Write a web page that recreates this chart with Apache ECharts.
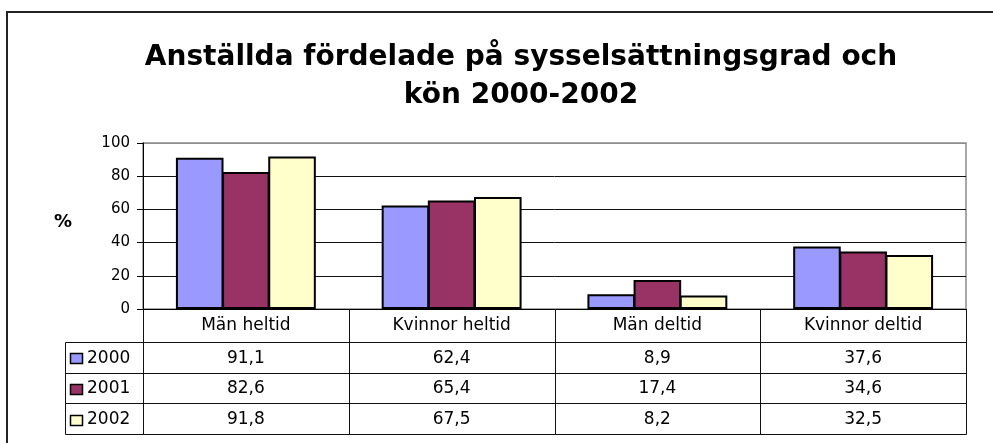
<!DOCTYPE html>
<html>
<head>
<meta charset="utf-8">
<title>Anställda fördelade på sysselsättningsgrad och kön 2000-2002</title>
<script src="https://cdn.jsdelivr.net/npm/echarts@6/dist/echarts.min.js"></script>
<style>
  html, body { margin: 0; padding: 0; background: #fff; }
  #chart { width: 993px; height: 443px; }
</style>
</head>
<body>
<div id="chart"></div>
<script>
// data (also printed in the table under the chart)
var categories = ['Män heltid', 'Kvinnor heltid', 'Män deltid', 'Kvinnor deltid'];
var years = ['2000', '2001', '2002'];
var v2000 = [91.1, 62.4, 8.9, 37.6];
var v2001 = [82.6, 65.4, 17.4, 34.6];
var v2002 = [91.8, 67.5, 8.2, 32.5];
var yMin = 0, yMax = 100, yStep = 20;

var colors = ['#9999ff', '#993366', '#ffffcc'];
var font = 'DejaVu Sans';
var rows = [v2000, v2001, v2002];

var myChart = echarts.init(document.getElementById('chart'));

function fmt(v) {
    return v.toFixed(1).replace('.', ',');
}

var option = {
    animation: false,
    backgroundColor: '#fff',
    title: {
        text: 'Anställda fördelade på sysselsättningsgrad och\nkön 2000-2002',
        left: 521,
        top: 39,
        padding: 0,
        textAlign: 'center',
        textStyle: {
            fontFamily: font,
            fontSize: 28,
            fontWeight: 'bold',
            color: '#000',
            lineHeight: 38
        }
    },
    grid: {
        left: 143,
        right: 27,
        top: 143,
        bottom: 134,
        show: true,
        borderColor: '#8c8c8c',
        borderWidth: 1.5,
        containLabel: false
    },
    xAxis: {
        type: 'category',
        data: categories,
        axisTick: { show: false },
        axisLine: { lineStyle: { color: '#000', width: 1 } },
        axisLabel: {
            fontFamily: font,
            fontSize: 17,
            color: '#000',
            margin: 8
        }
    },
    yAxis: {
        type: 'value',
        min: yMin,
        max: yMax,
        interval: yStep,
        axisLine: { show: true, lineStyle: { color: '#000', width: 1 } },
        axisTick: { show: true, inside: false, length: 6, lineStyle: { color: '#000' } },
        axisLabel: {
            fontFamily: font,
            fontSize: 15,
            color: '#000',
            margin: 13
        },
        splitLine: {
            lineStyle: {
                color: ['#000', '#111', '#111', '#111', '#111', '#8c8c8c'],
                width: 1
            }
        }
    },
    series: years.map(function (y, i) {
        return {
            name: y,
            type: 'bar',
            data: rows[i],
            barGap: '-3%',
            barCategoryGap: '32%',
            itemStyle: {
                color: colors[i],
                borderColor: '#000',
                borderWidth: 2
            }
        };
    })
};

myChart.setOption(option);

// data table under the plot, placed from the axis scales
function buildTable() {
    var y0 = Math.round(myChart.convertToPixel({ yAxisIndex: 0 }, 0));
    var xs = categories.map(function (c) {
        return myChart.convertToPixel({ xAxisIndex: 0 }, c);
    });
    var bw = xs[1] - xs[0];
    var xl = xs[0] - bw / 2;
    var xr = xs[xs.length - 1] + bw / 2;
    var keyLeft = 65.5;
    var headBottom = 342;
    var rowH = 30.7;
    var bottom = headBottom + rowH * rows.length;
    var lineStyle = { stroke: '#111', lineWidth: 1 };
    var g = [];

    function px(v) { return Math.round(v) + 0.5; }

    // vertical column lines
    for (var i = 0; i <= categories.length; i++) {
        var x = px(xl + i * bw);
        g.push({ type: 'line', shape: { x1: x, y1: y0, x2: x, y2: px(bottom) }, style: lineStyle, z: 10 });
    }
    g.push({ type: 'line', shape: { x1: keyLeft, y1: px(headBottom), x2: keyLeft, y2: px(bottom) }, style: lineStyle, z: 10 });
    // horizontal row lines
    for (var r = 0; r <= rows.length; r++) {
        var yy = px(headBottom + r * rowH);
        g.push({ type: 'line', shape: { x1: keyLeft, y1: yy, x2: px(xr), y2: yy }, style: lineStyle, z: 10 });
    }

    rows.forEach(function (vals, r) {
        var cy = headBottom + r * rowH + rowH / 2 + 1;
        g.push({
            type: 'rect',
            shape: { x: 70.5, y: Math.round(cy - 5) + 0.5, width: 12, height: 10 },
            style: { fill: colors[r], stroke: '#000', lineWidth: 1.5 },
            z: 10
        });
        g.push({
            type: 'text',
            x: 87, y: cy,
            style: {
                text: years[r], fontFamily: font, fontSize: 17, fill: '#000',
                textAlign: 'left', textVerticalAlign: 'middle'
            },
            z: 10
        });
        vals.forEach(function (v, c) {
            g.push({
                type: 'text',
                x: xs[c], y: cy,
                style: {
                    text: fmt(v), fontFamily: font, fontSize: 17, fill: '#000',
                    textAlign: 'center', textVerticalAlign: 'middle'
                },
                z: 10
            });
        });
    });

    // "%" axis caption
    g.push({
        type: 'text', x: 63, y: 222,
        style: {
            text: '%', fontFamily: font, fontSize: 18, fontWeight: 'bold', fill: '#000',
            textAlign: 'center', textVerticalAlign: 'middle'
        }
    });

    // chart frame (top and left edges are inside the picture)
    g.push({
        type: 'polyline',
        shape: { points: [[7, 443], [7, 12], [993, 12]] },
        style: { stroke: '#222', lineWidth: 2, fill: null }
    });

    myChart.setOption({ graphic: g });
}

buildTable();
</script>
</body>
</html>
